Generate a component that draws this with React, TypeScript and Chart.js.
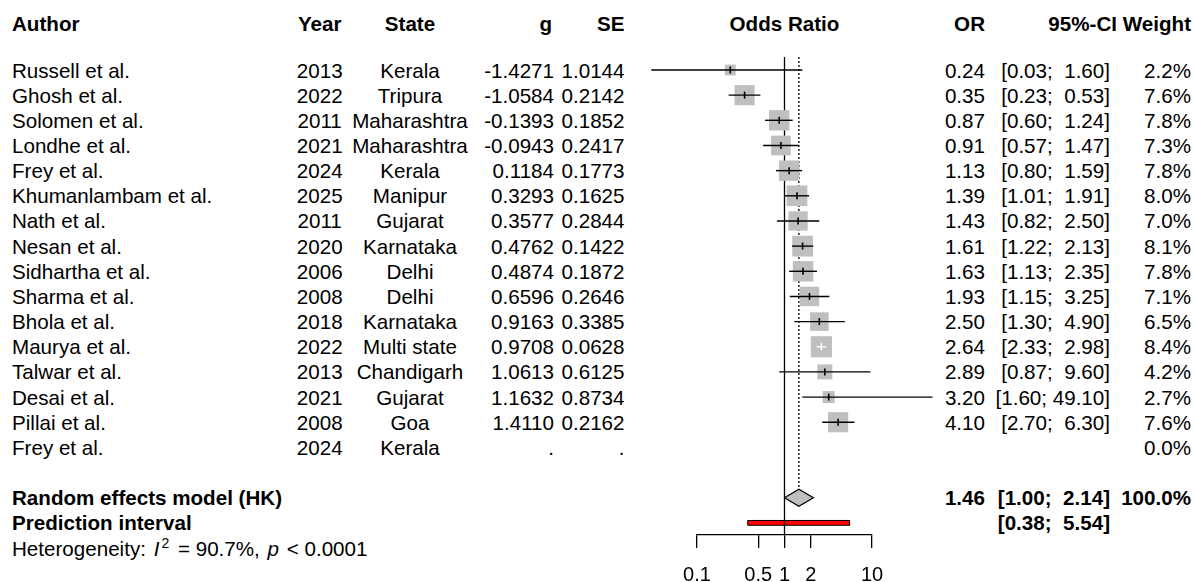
import React, { useEffect, useRef } from "react";
import { Chart, registerables } from "chart.js";

Chart.register(...registerables);

// ---- Study table ----
const authors = [
  "Russell et al.", "Ghosh et al.", "Solomen et al.", "Londhe et al.", "Frey et al.",
  "Khumanlambam et al.", "Nath et al.", "Nesan et al.", "Sidhartha et al.", "Sharma et al.",
  "Bhola et al.", "Maurya et al.", "Talwar et al.", "Desai et al.", "Pillai et al.", "Frey et al.",
];
const years = [2013, 2022, 2011, 2021, 2024, 2025, 2011, 2020, 2006, 2008, 2018, 2022, 2013, 2021, 2008, 2024];
const states = [
  "Kerala", "Tripura", "Maharashtra", "Maharashtra", "Kerala", "Manipur", "Gujarat", "Karnataka",
  "Delhi", "Delhi", "Karnataka", "Multi state", "Chandigarh", "Gujarat", "Goa", "Kerala",
];
const gValues = [
  "-1.4271", "-1.0584", "-0.1393", "-0.0943", "0.1184", "0.3293", "0.3577", "0.4762",
  "0.4874", "0.6596", "0.9163", "0.9708", "1.0613", "1.1632", "1.4110", ".",
];
const seValues = [
  "1.0144", "0.2142", "0.1852", "0.2417", "0.1773", "0.1625", "0.2844", "0.1422",
  "0.1872", "0.2646", "0.3385", "0.0628", "0.6125", "0.8734", "0.2162", ".",
];
const oddsRatios: (number | null)[] = [0.24, 0.35, 0.87, 0.91, 1.13, 1.39, 1.43, 1.61, 1.63, 1.93, 2.5, 2.64, 2.89, 3.2, 4.1, null];
const ciLower: (number | null)[] = [0.03, 0.23, 0.6, 0.57, 0.8, 1.01, 0.82, 1.22, 1.13, 1.15, 1.3, 2.33, 0.87, 1.6, 2.7, null];
const ciUpper: (number | null)[] = [1.6, 0.53, 1.24, 1.47, 1.59, 1.91, 2.5, 2.13, 2.35, 3.25, 4.9, 2.98, 9.6, 49.1, 6.3, null];
const weights = [2.2, 7.6, 7.8, 7.3, 7.8, 8.0, 7.0, 8.1, 7.8, 7.1, 6.5, 8.4, 4.2, 2.7, 7.6, 0.0];

// ---- Pooled estimate and prediction interval ----
const pooledOR = 1.46;
const pooledLower = 1.0;
const pooledUpper = 2.14;
const pooledWeight = 100.0;
const predLower = 0.38;
const predUpper = 5.54;
const hetI2 = "90.7%";
const hetP = "0.0001";

const xTicks = [0.1, 0.5, 1, 2, 10];

// ---- Layout ----
const W = 1194;
const H = 582;
const FONT = '"Liberation Sans", Arial, Helvetica, sans-serif';
const FONT_SIZE = 20.6;
const ROW0 = 70;
const ROW_H = 25.16;
const HEADER_Y = 23;
const PLOT_LEFT = 697;
const PLOT_RIGHT = 872;
const PLOT_TOP = 57;
const AXIS_Y = 535;
const Y_MIN = (PLOT_TOP - ROW0) / ROW_H;
const Y_MAX = (AXIS_Y - ROW0) / ROW_H;
const POOLED_ROW = authors.length + 1;
const PRED_ROW = POOLED_ROW + 1;
const HET_ROW = PRED_ROW + 1;
const rowY = (i: number) => ROW0 + ROW_H * i;

const BOX_SCALE = 7.3; // px per sqrt(weight %)
const boxSide = (w: number) => BOX_SCALE * Math.sqrt(w);
const DIAMOND_HALF = 8.5 / ROW_H;
const PRED_HALF = 2.4 / ROW_H;

const fmt2 = (v: number) => v.toFixed(2);
const allLower = [...ciLower, pooledLower, predLower].filter((v): v is number => v != null);
const allUpper = [...ciUpper, pooledUpper, predUpper].filter((v): v is number => v != null);
const lowerWidth = Math.max(...allLower.map((v) => fmt2(v).length));
const upperWidth = Math.max(...allUpper.map((v) => fmt2(v).length));
const fmtCI = (lo: number, hi: number) =>
  `[${fmt2(lo).padStart(lowerWidth)}; ${fmt2(hi).padStart(upperWidth)}]`;

type Align = "left" | "right" | "center";

function Cell(props: { x: number; y: number; align: Align; bold?: boolean; children: React.ReactNode }) {
  const { x, y, align, bold, children } = props;
  const style: React.CSSProperties = {
    position: "absolute",
    top: y - 12.5,
    height: 25,
    lineHeight: "25px",
    whiteSpace: "pre",
    fontWeight: bold ? "bold" : "normal",
  };
  if (align === "left") style.left = x;
  else if (align === "right") style.right = W - x;
  else {
    style.left = x - 150;
    style.width = 300;
    style.textAlign = "center";
  }
  return <div style={style}>{children}</div>;
}

// column anchors
const COL = {
  author: 12,
  year: 319.7,
  state: 410,
  g: 554,
  se: 624.5,
  plot: 784.5,
  or: 985,
  ci: 1110,
  ciHead: 1117,
  weight: 1191,
};

function ciInsideBox(chart: any, i: number): boolean {
  const xs = chart?.scales?.x;
  const o = oddsRatios[i];
  const lo = ciLower[i];
  const hi = ciUpper[i];
  if (!xs || o == null || lo == null || hi == null) return false;
  const c = xs.getPixelForValue(o);
  const half = boxSide(weights[i]) / 2;
  return xs.getPixelForValue(lo) >= c - half && xs.getPixelForValue(hi) <= c + half;
}

function ForestPlot() {
  const canvasRef = useRef<HTMLCanvasElement | null>(null);

  useEffect(() => {
    const canvas = canvasRef.current;
    if (!canvas) return;

    const studyIdx = oddsRatios.map((_, i) => i).filter((i) => oddsRatios[i] != null);
    const points = studyIdx.map((i) => ({ x: oddsRatios[i] as number, y: i, w: weights[i], i }));

    const ciSets = studyIdx.map((i) => ({
      label: `ci-${i}`,
      data: [
        { x: ciLower[i] as number, y: i },
        { x: ciUpper[i] as number, y: i },
      ],
      showLine: true,
      pointRadius: 0,
      borderWidth: 1.4,
      borderColor: (ctx: any) => (ciInsideBox(ctx.chart, i) ? "#ffffff" : "#000000"),
      clip: false as const,
      order: 5,
    }));

    const chart = new Chart(canvas, {
      type: "scatter",
      data: {
        datasets: [
          // point estimate ticks
          {
            label: "estimate",
            data: points,
            pointStyle: "line",
            rotation: 90,
            pointRadius: 3.5,
            borderWidth: 1.6,
            borderColor: (ctx: any) =>
              ctx.raw && ciInsideBox(ctx.chart, ctx.raw.i) ? "#ffffff" : "#000000",
            clip: false,
            order: 1,
          } as any,
          ...ciSets,
          // weighted squares
          {
            label: "weight",
            data: points,
            pointStyle: "rect",
            pointRadius: (ctx: any) => (ctx.raw ? boxSide(ctx.raw.w) / Math.SQRT2 : 0),
            backgroundColor: "#bfbfbf",
            borderWidth: 0,
            clip: false,
            order: 8,
          } as any,
          // line of no effect
          {
            label: "null",
            data: [
              { x: 1, y: Y_MIN },
              { x: 1, y: Y_MAX },
            ],
            showLine: true,
            pointRadius: 0,
            borderColor: "#000000",
            borderWidth: 1.3,
            clip: false,
            order: 9,
          },
          // pooled estimate line
          {
            label: "pooled-line",
            data: [
              { x: pooledOR, y: Y_MIN },
              { x: pooledOR, y: POOLED_ROW - DIAMOND_HALF },
            ],
            showLine: true,
            pointRadius: 0,
            borderColor: "#000000",
            borderWidth: 1.3,
            borderDash: [2, 2],
            clip: false,
            order: 9,
          },
          // random effects diamond
          {
            label: "diamond",
            data: [
              { x: pooledLower, y: POOLED_ROW },
              { x: pooledOR, y: POOLED_ROW - DIAMOND_HALF },
              { x: pooledUpper, y: POOLED_ROW },
              { x: pooledOR, y: POOLED_ROW + DIAMOND_HALF },
              { x: pooledLower, y: POOLED_ROW },
            ],
            showLine: true,
            fill: "shape",
            pointRadius: 0,
            backgroundColor: "#bfbfbf",
            borderColor: "#000000",
            borderWidth: 1.2,
            tension: 0,
            clip: false,
            order: 10,
          } as any,
          // prediction interval bar
          {
            label: "prediction",
            data: [
              { x: predLower, y: PRED_ROW - PRED_HALF },
              { x: predUpper, y: PRED_ROW - PRED_HALF },
              { x: predUpper, y: PRED_ROW + PRED_HALF },
              { x: predLower, y: PRED_ROW + PRED_HALF },
              { x: predLower, y: PRED_ROW - PRED_HALF },
            ],
            showLine: true,
            fill: "shape",
            pointRadius: 0,
            backgroundColor: "#ff0000",
            borderColor: "#000000",
            borderWidth: 1,
            tension: 0,
            clip: false,
            order: 10,
          } as any,
        ],
      },
      options: {
        responsive: false,
        maintainAspectRatio: false,
        animation: false,
        events: [],
        layout: { padding: { left: PLOT_LEFT, right: W - PLOT_RIGHT, top: PLOT_TOP, bottom: 0 } },
        plugins: { legend: { display: false }, tooltip: { enabled: false } },
        scales: {
          x: {
            type: "logarithmic",
            position: "bottom",
            min: xTicks[0],
            max: xTicks[xTicks.length - 1],
            afterBuildTicks: (scale: any) => {
              scale.ticks = xTicks.map((v) => ({ value: v }));
            },
            afterFit: (scale: any) => {
              scale.height = H - AXIS_Y;
            },
            ticks: {
              autoSkip: false,
              maxRotation: 0,
              color: "#000000",
              padding: 15.5,
              font: { family: FONT, size: 20 },
              callback: (v: any) => String(v),
            },
            grid: {
              drawOnChartArea: false,
              drawTicks: true,
              tickLength: 13,
              color: "#000000",
              lineWidth: 1.3,
            },
            border: { display: true, color: "#000000", width: 1.3 },
          },
          y: {
            type: "linear",
            min: Y_MIN,
            max: Y_MAX,
            reverse: true,
            display: false,
          },
        },
      } as any,
    });

    return () => chart.destroy();
  }, []);

  return (
    <canvas
      ref={canvasRef}
      width={W}
      height={H}
      style={{ position: "absolute", left: 0, top: 0, width: W, height: H, pointerEvents: "none" }}
    />
  );
}

export default function App() {
  return (
    <div
      style={{
        position: "absolute",
        left: 0,
        top: 0,
        width: W,
        height: H,
        overflow: "hidden",
        background: "#ffffff",
        color: "#000000",
        fontFamily: FONT,
        fontSize: FONT_SIZE,
      }}
    >
      {/* headers */}
      <Cell x={COL.author} y={HEADER_Y} align="left" bold>Author</Cell>
      <Cell x={COL.year} y={HEADER_Y} align="center" bold>Year</Cell>
      <Cell x={COL.state} y={HEADER_Y} align="center" bold>State</Cell>
      <Cell x={COL.g - 2} y={HEADER_Y} align="right" bold>g</Cell>
      <Cell x={COL.se} y={HEADER_Y} align="right" bold>SE</Cell>
      <Cell x={COL.plot} y={HEADER_Y} align="center" bold>Odds Ratio</Cell>
      <Cell x={COL.or} y={HEADER_Y} align="right" bold>OR</Cell>
      <Cell x={COL.ciHead} y={HEADER_Y} align="right" bold>95%-CI</Cell>
      <Cell x={COL.weight} y={HEADER_Y} align="right" bold>Weight</Cell>

      {/* study rows */}
      {authors.map((a, i) => {
        const y = rowY(i);
        const o = oddsRatios[i];
        const lo = ciLower[i];
        const hi = ciUpper[i];
        return (
          <React.Fragment key={i}>
            <Cell x={COL.author} y={y} align="left">{a}</Cell>
            <Cell x={COL.year} y={y} align="center">{String(years[i])}</Cell>
            <Cell x={COL.state} y={y} align="center">{states[i]}</Cell>
            <Cell x={COL.g} y={y} align="right">{gValues[i]}</Cell>
            <Cell x={COL.se} y={y} align="right">{seValues[i]}</Cell>
            <Cell x={COL.or} y={y} align="right">{o != null ? fmt2(o) : ""}</Cell>
            <Cell x={COL.ci} y={y} align="right">{lo != null && hi != null ? fmtCI(lo, hi) : ""}</Cell>
            <Cell x={COL.weight} y={y} align="right">{`${weights[i].toFixed(1)}%`}</Cell>
          </React.Fragment>
        );
      })}

      {/* pooled rows */}
      <Cell x={COL.author} y={rowY(POOLED_ROW)} align="left" bold>Random effects model (HK)</Cell>
      <Cell x={COL.or} y={rowY(POOLED_ROW)} align="right" bold>{fmt2(pooledOR)}</Cell>
      <Cell x={COL.ci} y={rowY(POOLED_ROW)} align="right" bold>{fmtCI(pooledLower, pooledUpper)}</Cell>
      <Cell x={COL.weight} y={rowY(POOLED_ROW)} align="right" bold>{`${pooledWeight.toFixed(1)}%`}</Cell>
      <Cell x={COL.author} y={rowY(PRED_ROW)} align="left" bold>Prediction interval</Cell>
      <Cell x={COL.ci} y={rowY(PRED_ROW)} align="right" bold>{fmtCI(predLower, predUpper)}</Cell>
      <Cell x={COL.author} y={rowY(HET_ROW)} align="left">
        <span>Heterogeneity: </span>
        <i style={{ marginLeft: 2 }}>I</i>
        <span style={{ position: "relative", top: -8, fontSize: 14, marginLeft: 2, marginRight: 3 }}>2</span>
        <span>{` = ${hetI2}, `}</span>
        <i style={{ marginLeft: 2, marginRight: 2 }}>p</i>
        <span>{` < ${hetP}`}</span>
      </Cell>

      <ForestPlot />
    </div>
  );
}
